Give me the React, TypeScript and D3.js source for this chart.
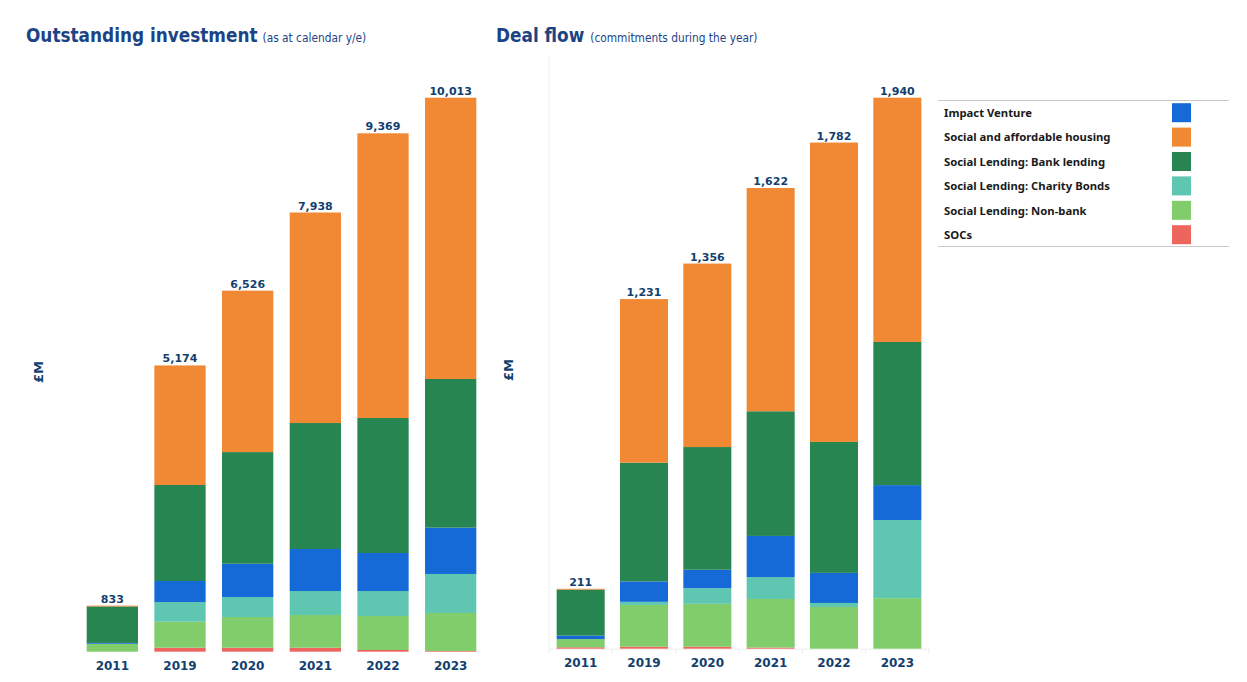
import React from "react";
import * as d3 from "d3";

const years = ["2011", "2019", "2020", "2021", "2022", "2023"];

const seriesKeys = ["socs", "nonbank", "charity", "impact", "bank", "housing"];

const legendLabels = [
  "Impact Venture",
  "Social and affordable housing",
  "Social Lending: Bank lending",
  "Social Lending: Charity Bonds",
  "Social Lending: Non-bank",
  "SOCs",
];
const legendKeys = ["impact", "housing", "bank", "charity", "nonbank", "socs"];

const colors: Record<string, string> = {
  impact: "#166ad8",
  housing: "#f08834",
  bank: "#278552",
  charity: "#5fc6b1",
  nonbank: "#81cd6c",
  socs: "#ee655d",
};

// Outstanding investment (£M)
const outHousing = [15, 2161, 2918, 3805, 5145, 5084];
const outBank = [660, 1735, 2018, 2277, 2440, 2687];
const outImpact = [15, 380, 602, 759, 687, 837];
const outCharity = [0, 356, 361, 434, 452, 705];
const outNonbank = [143, 470, 555, 591, 614, 687];
const outSocs = [0, 72, 72, 72, 31, 13];

// Deal flow (£M)
const dealHousing = [3, 576, 646, 786, 1054, 860];
const dealBank = [162, 418, 432, 439, 461, 504];
const dealImpact = [12, 72, 65, 145, 106, 123];
const dealCharity = [0, 11, 55, 77, 14, 275];
const dealNonbank = [29, 147, 151, 171, 147, 178];
const dealSocs = [5, 7, 7, 4, 0, 0];

const NAVY = "#123f6e";
const TITLE = "#1c4484";

function buildRows(
  housing: number[],
  bank: number[],
  impact: number[],
  charity: number[],
  nonbank: number[],
  socs: number[]
) {
  return years.map((y, i) => ({
    year: y,
    housing: housing[i],
    bank: bank[i],
    impact: impact[i],
    charity: charity[i],
    nonbank: nonbank[i],
    socs: socs[i],
  }));
}

const outRows = buildRows(outHousing, outBank, outImpact, outCharity, outNonbank, outSocs);
const dealRows = buildRows(dealHousing, dealBank, dealImpact, dealCharity, dealNonbank, dealSocs);

type Row = ReturnType<typeof buildRows>[number];

function Chart({
  rows,
  x0,
  x1,
  yBase,
  yTop,
  axisLine,
}: {
  rows: Row[];
  x0: number;
  x1: number;
  yBase: number;
  yTop: number;
  axisLine: boolean;
}) {
  const x = d3
    .scaleBand<string>()
    .domain(years)
    .range([x0, x1])
    .paddingInner(0.242)
    .paddingOuter(0.121);
  const totals = rows.map((r) => seriesKeys.reduce((s, k) => s + (r as any)[k], 0));
  const y = d3
    .scaleLinear()
    .domain([0, d3.max(totals) as number])
    .range([yBase, yTop]);
  const stack = d3.stack<Row>().keys(seriesKeys);
  const layers = stack(rows);
  const fmt = d3.format(",");
  return (
    <g>
      {axisLine && (
        <g>
          <line x1={x0} x2={x0} y1={57} y2={yBase} stroke="#ececec" strokeWidth={1} />
          <line x1={x0} x2={x1} y1={yBase + 0.5} y2={yBase + 0.5} stroke="#ececec" strokeWidth={1} />
          {d3.range(years.length + 1).map((i) => {
            const tx = x0 + i * x.step();
            return (
              <line key={i} x1={tx} x2={tx} y1={yBase} y2={yBase + 5} stroke="#ececec" strokeWidth={1} />
            );
          })}
        </g>
      )}
      {layers.map((layer) => (
        <g key={layer.key} fill={colors[layer.key]}>
          {layer.map((d, i) => {
            const h = y(d[0]) - y(d[1]);
            if (h <= 0) return null;
            return (
              <rect
                key={i}
                x={x(rows[i].year)}
                y={y(d[1])}
                width={x.bandwidth()}
                height={h}
              />
            );
          })}
        </g>
      ))}
      {rows.map((r, i) => (
        <text
          key={"t" + r.year}
          x={(x(r.year) as number) + x.bandwidth() / 2}
          y={y(totals[i]) - 3}
          textAnchor="middle"
          fontFamily="DejaVu Sans, Verdana, sans-serif"
          fontWeight="bold"
          fontSize={11}
          fill={NAVY}
        >
          {fmt(totals[i])}
        </text>
      ))}
      {rows.map((r) => (
        <text
          key={"y" + r.year}
          x={(x(r.year) as number) + x.bandwidth() / 2}
          y={yBase + 18.5}
          textAnchor="middle"
          fontFamily="DejaVu Sans, Verdana, sans-serif"
          fontWeight="bold"
          fontSize={12}
          fill={NAVY}
        >
          {r.year}
        </text>
      ))}
    </g>
  );
}

export default function App() {
  return (
    <svg
      width={1247}
      height={682}
      style={{ position: "absolute", left: 0, top: 0, background: "#fff" }}
    >
      {/* Titles */}
      <text x={26} y={42} fontFamily="DejaVu Sans Condensed, sans-serif" fontWeight="bold" fontSize={18.8} fill={TITLE}>
        Outstanding investment
        <tspan fontWeight="normal" fontSize={11.8} dx={5}>(as at calendar y/e)</tspan>
      </text>
      <text x={496} y={42} fontFamily="DejaVu Sans Condensed, sans-serif" fontWeight="bold" fontSize={18.8} fill={TITLE}>
        Deal flow
        <tspan fontWeight="normal" fontSize={11.8} dx={6}>(commitments during the year)</tspan>
      </text>

      {/* Y axis titles */}
      <text
        transform="translate(43,372) rotate(-90)"
        textAnchor="middle"
        fontFamily="DejaVu Sans, sans-serif"
        fontWeight="bold"
        fontSize={13}
        fill={NAVY}
      >
        £M
      </text>
      <text
        transform="translate(513,370) rotate(-90)"
        textAnchor="middle"
        fontFamily="DejaVu Sans, sans-serif"
        fontWeight="bold"
        fontSize={13}
        fill={NAVY}
      >
        £M
      </text>

      <Chart rows={outRows} x0={78.5} x1={484.5} yBase={651.7} yTop={97.7} axisLine={false} />
      <Chart rows={dealRows} x0={549} x1={929} yBase={648.7} yTop={97.7} axisLine={true} />

      {/* Legend */}
      <line x1={938} x2={1229} y1={100.5} y2={100.5} stroke="#c8c8c8" strokeWidth={1} />
      <line x1={938} x2={1229} y1={246.5} y2={246.5} stroke="#c8c8c8" strokeWidth={1} />
      {legendKeys.map((k, i) => {
        const cy = 112.7 + i * 24.4;
        return (
          <g key={k}>
            <text
              x={944}
              y={cy + 4.2}
              fontFamily="Noto Sans, sans-serif"
              fontWeight="bold"
              fontSize={11.3}
              fill="#1a1a1a"
            >
              {legendLabels[i]}
            </text>
            <rect x={1172} y={cy - 9.5} width={19} height={19} fill={colors[k]} />
          </g>
        );
      })}
    </svg>
  );
}
